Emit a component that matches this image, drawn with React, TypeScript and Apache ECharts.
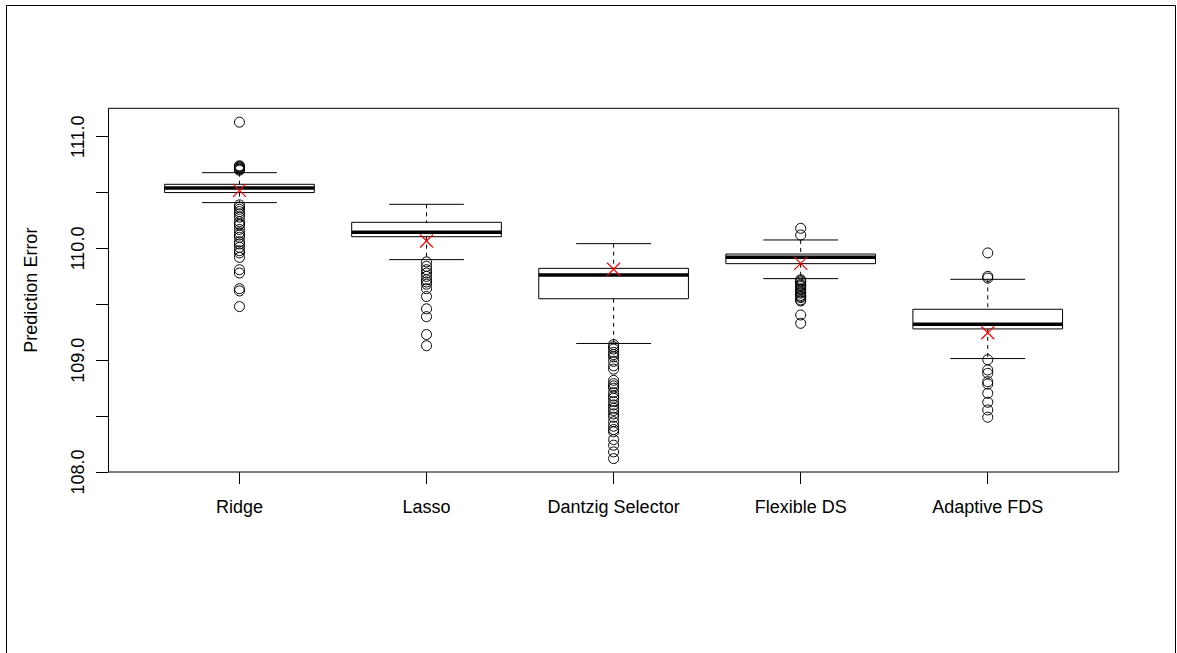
import React, { useEffect, useRef } from "react";
import * as echarts from "echarts";

const categories = ["Ridge", "Lasso", "Dantzig Selector", "Flexible DS", "Adaptive FDS"];
const lowerWhisker = [110.41, 109.9, 109.15, 109.73, 109.015];
const q1 = [110.5, 110.105, 109.55, 109.864, 109.28];
const median = [110.54, 110.145, 109.763, 109.921, 109.321];
const q3 = [110.574, 110.234, 109.822, 109.95, 109.456];
const upperWhisker = [110.678, 110.395, 110.043, 110.076, 109.724];
const means = [110.52, 110.067, 109.814, 109.867, 109.246];

const ridgeOutliers = [111.13, 110.7, 110.71, 110.71, 110.72, 110.73, 110.73, 110.74,
  110.39, 110.37, 110.35, 110.33, 110.31, 110.28, 110.24, 110.22, 110.21, 110.17, 110.14,
  110.12, 110.1, 110.06, 110.04, 110.01, 109.98, 109.96, 109.92, 109.81, 109.78, 109.64,
  109.62, 109.48];
const lassoOutliers = [109.88, 109.84, 109.81, 109.78, 109.75, 109.72, 109.7, 109.68,
  109.64, 109.57, 109.46, 109.39, 109.23, 109.13];
const dantzigOutliers = [109.14, 109.12, 109.1, 109.07, 109.05, 109.03, 108.99, 108.95,
  108.92, 108.82, 108.79, 108.77, 108.75, 108.71, 108.68, 108.66, 108.63, 108.6, 108.57,
  108.55, 108.52, 108.49, 108.45, 108.41, 108.38, 108.36, 108.29, 108.24, 108.18, 108.12];
const flexibleOutliers = [110.18, 110.12, 109.72, 109.71, 109.7, 109.68, 109.67, 109.66,
  109.64, 109.63, 109.61, 109.6, 109.58, 109.57, 109.56, 109.54, 109.53, 109.405, 109.33];
const adaptiveOutliers = [109.96, 109.75, 109.735, 109.005, 108.913, 108.883, 108.808,
  108.787, 108.704, 108.624, 108.555, 108.49];
const outliers = [ridgeOutliers, lassoOutliers, dantzigOutliers, flexibleOutliers, adaptiveOutliers];

const yTicks = [108, 108.5, 109, 109.5, 110, 110.5, 111];
const yLabels = [108, 109, 110, 111];
const xPositions = [1, 2, 3, 4, 5];

const FONT = "'Liberation Sans', Arial, Helvetica, sans-serif";

export default function App() {
  const ref = useRef<HTMLDivElement>(null);
  useEffect(() => {
    if (!ref.current) return;
    const chart = echarts.init(ref.current, undefined, { renderer: "svg" });

    const boxData = xPositions.map((x, i) => [x, lowerWhisker[i], q1[i], median[i], q3[i], upperWhisker[i]]);
    const meanData = xPositions.map((x, i) => [x, means[i]]);
    const outlierData: number[][] = [];
    outliers.forEach((arr, i) => arr.forEach((v) => outlierData.push([xPositions[i], v])));

    const dashed = { stroke: "#000", lineWidth: 1, lineDash: [4, 4] };
    const solid = { stroke: "#000", lineWidth: 1 };

    chart.setOption({
      animation: false,
      backgroundColor: "#fff",
      textStyle: { fontFamily: FONT },
      grid: {
        left: 108.5,
        right: 58.3,
        top: 108.3,
        bottom: 181,
        show: true,
        borderColor: "#000",
        borderWidth: 1,
        backgroundColor: "transparent",
      },
      xAxis: {
        type: "value",
        min: 0.3,
        max: 5.7,
        splitLine: { show: false },
        axisLine: { show: false },
        axisTick: { show: true, customValues: xPositions, length: 12, lineStyle: { color: "#000", width: 1 } },
        axisLabel: {
          customValues: xPositions,
          formatter: (v: number) => categories[Math.round(v) - 1] ?? "",
          margin: 26,
          fontSize: 18,
          color: "#000",
          fontFamily: FONT,
        },
      },
      yAxis: {
        type: "value",
        min: 108,
        max: 111.254,
        name: "Prediction Error",
        nameLocation: "middle",
        nameRotate: 90,
        nameGap: 69,
        nameTextStyle: { fontSize: 18, color: "#000", fontFamily: FONT },
        splitLine: { show: false },
        axisLine: { show: false },
        axisTick: { show: true, customValues: yTicks, length: 12.5, lineStyle: { color: "#000", width: 1 } },
        axisLabel: {
          customValues: yLabels,
          formatter: (v: number) => v.toFixed(1),
          rotate: 90,
          margin: 22,
          fontSize: 18,
          color: "#000",
          fontFamily: FONT,
        },
      },
      graphic: [
        { type: "line", shape: { x1: 6.5, y1: 5.5, x2: 1175.5, y2: 5.5 }, style: { stroke: "#000", lineWidth: 1 } },
        { type: "line", shape: { x1: 6.5, y1: 5.5, x2: 6.5, y2: 660 }, style: { stroke: "#000", lineWidth: 1 } },
        { type: "line", shape: { x1: 1175.5, y1: 5.5, x2: 1175.5, y2: 660 }, style: { stroke: "#000", lineWidth: 1 } },
      ],
      series: [
        {
          type: "custom",
          data: boxData,
          encode: { x: 0, y: [1, 2, 3, 4, 5] },
          z: 2,
          renderItem: (params: any, api: any) => {
            const x = api.value(0);
            const pLw = api.coord([x, api.value(1)]);
            const pQ1 = api.coord([x, api.value(2)]);
            const pMed = api.coord([x, api.value(3)]);
            const pQ3 = api.coord([x, api.value(4)]);
            const pUw = api.coord([x, api.value(5)]);
            const halfBox = api.size([0.4, 0])[0];
            const halfStaple = api.size([0.2, 0])[0];
            const cx = pMed[0];
            return {
              type: "group",
              children: [
                { type: "line", shape: { x1: cx, y1: pUw[1], x2: cx, y2: pQ3[1] }, style: dashed },
                { type: "line", shape: { x1: cx, y1: pQ1[1], x2: cx, y2: pLw[1] }, style: dashed },
                { type: "line", shape: { x1: cx - halfStaple, y1: pUw[1], x2: cx + halfStaple, y2: pUw[1] }, style: solid },
                { type: "line", shape: { x1: cx - halfStaple, y1: pLw[1], x2: cx + halfStaple, y2: pLw[1] }, style: solid },
                {
                  type: "rect",
                  shape: { x: cx - halfBox, y: pQ3[1], width: 2 * halfBox, height: pQ1[1] - pQ3[1] },
                  style: { fill: "none", stroke: "#000", lineWidth: 1 },
                },
                {
                  type: "line",
                  shape: { x1: cx - halfBox, y1: pMed[1], x2: cx + halfBox, y2: pMed[1] },
                  style: { stroke: "#000", lineWidth: 3.5 },
                },
              ],
            };
          },
        },
        {
          type: "scatter",
          data: outlierData,
          symbol: "circle",
          symbolSize: 10,
          z: 3,
          itemStyle: { color: "rgba(0,0,0,0)", borderColor: "#000", borderWidth: 1, opacity: 1 },
          emphasis: { disabled: true },
        },
        {
          type: "custom",
          data: meanData,
          encode: { x: 0, y: 1 },
          z: 4,
          renderItem: (params: any, api: any) => {
            const p = api.coord([api.value(0), api.value(1)]);
            const s = 6.5;
            const st = { stroke: "#FF0000", lineWidth: 1.2 };
            return {
              type: "group",
              children: [
                { type: "line", shape: { x1: p[0] - s, y1: p[1] - s, x2: p[0] + s, y2: p[1] + s }, style: st },
                { type: "line", shape: { x1: p[0] - s, y1: p[1] + s, x2: p[0] + s, y2: p[1] - s }, style: st },
              ],
            };
          },
        },
      ],
    });
    return () => chart.dispose();
  }, []);
  return <div ref={ref} style={{ position: "fixed", left: 0, top: 0, width: 1177, height: 653 }} />;
}
